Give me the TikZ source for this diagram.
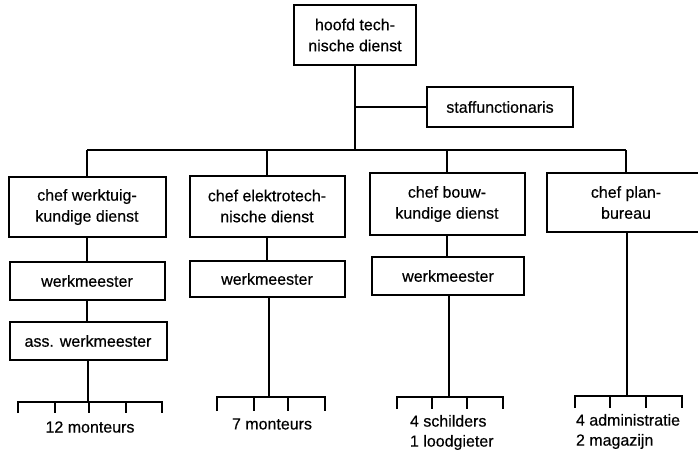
\documentclass[tikz,border=0pt]{standalone}
\usepackage{fontspec}
\setmainfont{Liberation Sans}
\newfontfamily\medfont{Liberation Sans}[UprightFeatures={FakeBold=0.4}]
\begin{document}
\begin{tikzpicture}[x=1pt,y=-1pt,line width=2pt,line join=miter,
  box/.style={draw,align=center,inner sep=0pt,font=\medfont\fontsize{16}{21}\selectfont},
  lbl/.style={align=left,inner sep=0pt,font=\medfont\fontsize{16}{20}\selectfont}]
\clip (0,0) rectangle (698,453);

% head of the department and staff
\node[box,minimum width=122,minimum height=60] (hoofd) at (355,35) {hoofd tech-\\nische dienst};
\node[box,minimum width=146,minimum height=40] (staff) at (500,107) {staffunctionaris};

% department heads
\node[box,minimum width=157,minimum height=60] (wtk) at (87,207) {chef werktuig-\\kundige dienst};
\node[box,minimum width=155,minimum height=61] (elk) at (267,206) {chef elektrotech-\\nische dienst};
\node[box,minimum width=155,minimum height=62] (bwk) at (447,204) {chef bouw-\\kundige dienst};
\node[box,minimum width=158,minimum height=59] (plan) at (626,202.5) {chef plan-\\bureau};

% foremen
\node[box,minimum width=155,minimum height=38] (wm1) at (87,281) {werkmeester};
\node[box,minimum width=157,minimum height=38] (awm1) at (88,341) {ass. werkmeester};
\node[box,minimum width=155,minimum height=36] (wm2) at (267,279) {werkmeester};
\node[box,minimum width=152,minimum height=38] (wm3) at (448,276) {werkmeester};

% bus below the head
\coordinate (bus) at (355,150);
\draw (hoofd.south) -- (bus);
\draw (hoofd.south |- staff.west) -- (staff.west);
\draw (wtk.north |- bus) -- (plan.north |- bus);
\foreach \n in {wtk,elk,bwk,plan} \draw (\n.north |- bus) -- (\n.north);

% chains within the departments
\draw (wtk.south) -- (wtk.south |- wm1.north);
\draw (wm1.south) -- (wm1.south |- awm1.north);
\draw (elk.south) -- (elk.south |- wm2.north);
\draw (bwk.south) -- (bwk.south |- wm3.north);

% crews: comb lines
\coordinate (c1) at (88,402);
\coordinate (c2) at (269,397);
\coordinate (c3) at (449,397);
\coordinate (c4) at (627,396);
\draw (awm1.south) -- (c1);
\draw (wm2.south -| c2) -- (c2);
\draw (wm3.south -| c3) -- (c3);
\draw (plan.south -| c4) -- (c4);

\draw (18,413) -- (18,402) -- (162,402) -- (162,413);
\foreach \x in {55,89,126} \draw (\x,402) -- (\x,413);
\draw (217,411) -- (217,397) -- (325,397) -- (325,411);
\foreach \x in {254,288} \draw (\x,397) -- (\x,411);
\draw (397,409) -- (397,397) -- (503,397) -- (503,409);
\foreach \x in {432,467} \draw (\x,397) -- (\x,409);
\draw (575,408) -- (575,396) -- (682,396) -- (682,408);
\foreach \x in {610,646} \draw (\x,396) -- (\x,408);

% crew labels
\node[lbl] (t1) at (90,427) {12 monteurs};
\node[lbl] (t2) at (272,424) {7 monteurs};
\node[lbl,anchor=north west] (t3) at (409,414) {4 schilders\\1 loodgieter};
\node[lbl,anchor=north west] (t4) at (575,413) {4 administratie\\2 magazijn};
\end{tikzpicture}
\end{document}
